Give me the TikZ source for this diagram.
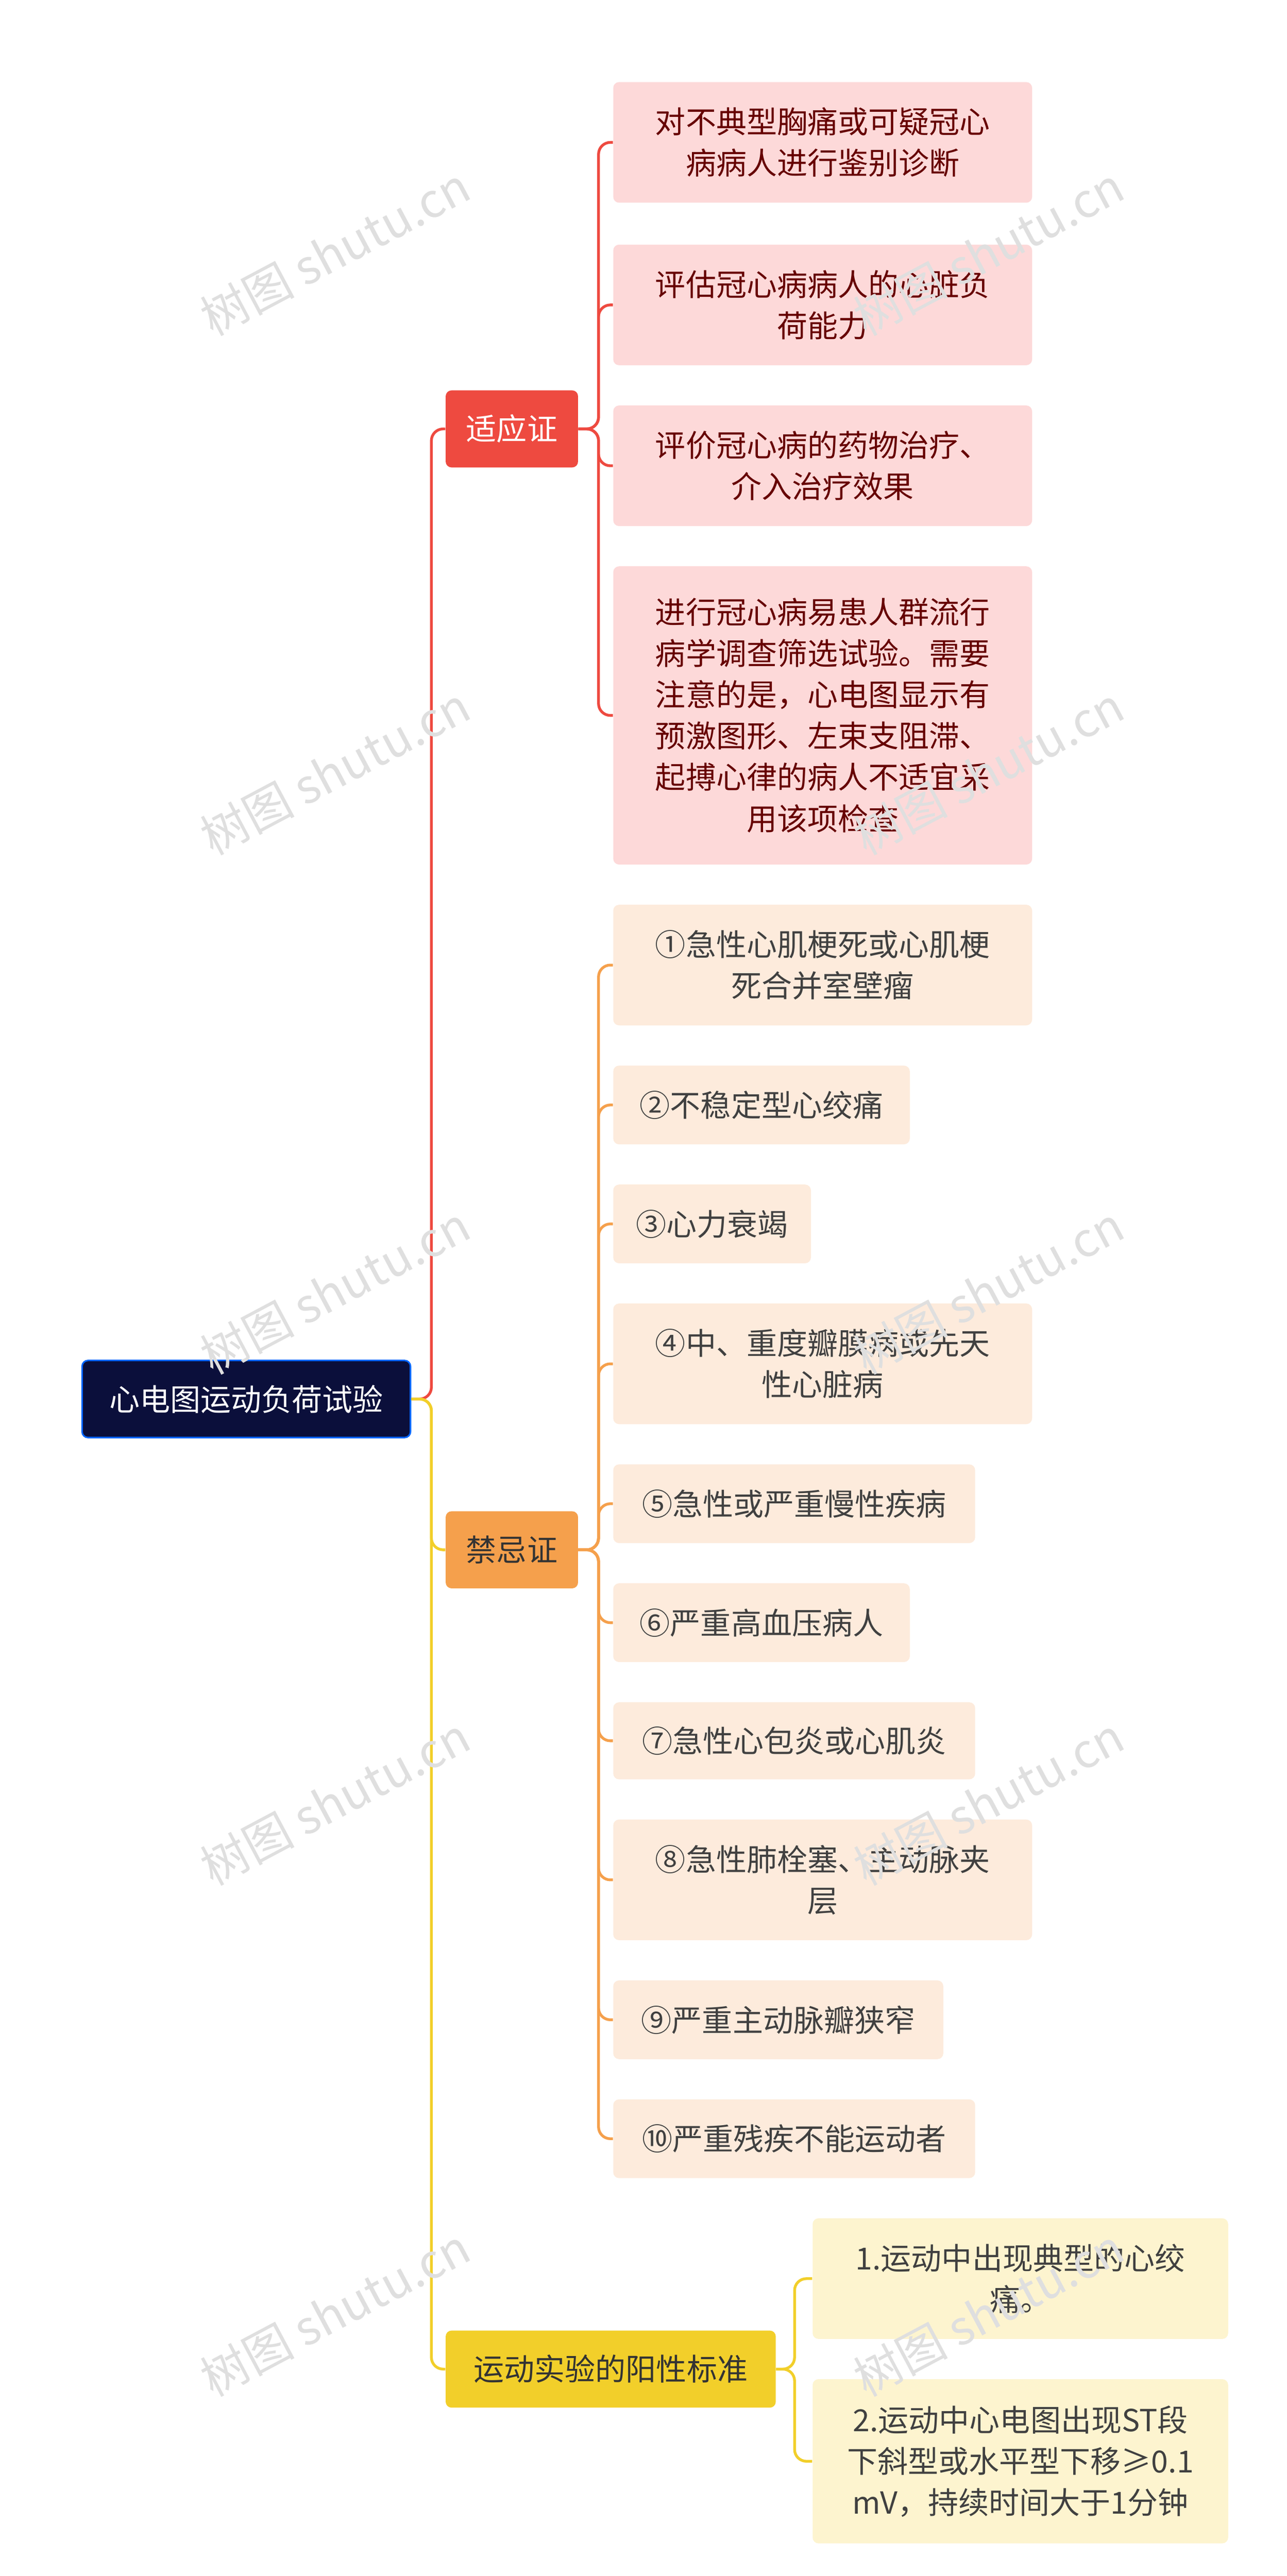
\documentclass[tikz,border=0pt]{standalone}
\usepackage{fontspec}
\setmainfont{Noto Sans CJK SC}
\usetikzlibrary{calc}
\definecolor{navy}{HTML}{0B0F3B}
\definecolor{rd}{HTML}{EE4A40}
\definecolor{org}{HTML}{F5A04C}
\definecolor{yl}{HTML}{F2CF2A}
\definecolor{pk}{HTML}{FDD9D9}
\definecolor{pc}{HTML}{FDEBDC}
\definecolor{ly}{HTML}{FDF4CF}
\tikzset{
  base/.style={rounded corners=3pt, inner sep=0pt, align=center, font=\fontsize{15.5pt}{21pt}\selectfont},
  rootbox/.style={base, fill=navy, draw=blue!60!cyan, line width=0.8pt, text=white},
  b1box/.style={base, fill=rd, text=white},
  b2box/.style={base, fill=org, text=black!80},
  b3box/.style={base, fill=yl, text=black!80},
  pkbox/.style={base, fill=pk, text=red!40!black},
  pcbox/.style={base, fill=pc, text=black!75},
  lybox/.style={base, fill=ly, text=black!75},
  conn/.style={line width=1.4pt, rounded corners=6pt},
  wm/.style={text=gray!25, rotate=28, font=\fontsize{24pt}{24pt}\selectfont}
}
\newcommand\bx[7]{\node[#6, minimum width={(#4-#2)*0.03cm}, minimum height={(#5-#3)*0.03cm}] (#1) at ({(#2+#4)/2},{(#3+#5)/2}) {#7};}
\begin{document}
\begin{tikzpicture}[x=0.03cm,y=-0.03cm]
\useasboundingbox[fill=white] (0,0) rectangle (768,1537.5);
\bx{root}{49}{812}{245}{858}{rootbox}{心电图运动负荷试验}
\bx{b1}{266}{233}{345}{279}{b1box}{适应证}
\bx{b2}{266}{902}{345}{948}{b2box}{禁忌证}
\bx{b3}{266}{1391}{463}{1437}{b3box}{运动实验的阳性标准}
\bx{a1}{366}{49}{616}{121}{pkbox}{对不典型胸痛或可疑冠心\\病病人进行鉴别诊断}
\bx{a2}{366}{146}{616}{218}{pkbox}{评估冠心病病人的心脏负\\荷能力}
\bx{a3}{366}{242}{616}{314}{pkbox}{评价冠心病的药物治疗、\\介入治疗效果}
\bx{a4}{366}{338}{616}{516}{pkbox}{进行冠心病易患人群流行\\病学调查筛选试验。需要\\注意的是，心电图显示有\\预激图形、左束支阻滞、\\起搏心律的病人不适宜采\\用该项检查}
\bx{c1}{366}{540}{616}{612}{pcbox}{①急性心肌梗死或心肌梗\\死合并室壁瘤}
\bx{c2}{366}{636}{543}{683}{pcbox}{②不稳定型心绞痛}
\bx{c3}{366}{707}{484}{754}{pcbox}{③心力衰竭}
\bx{c4}{366}{778}{616}{850}{pcbox}{④中、重度瓣膜病或先天\\性心脏病}
\bx{c5}{366}{874}{582}{921}{pcbox}{⑤急性或严重慢性疾病}
\bx{c6}{366}{945}{543}{992}{pcbox}{⑥严重高血压病人}
\bx{c7}{366}{1016}{582}{1062}{pcbox}{⑦急性心包炎或心肌炎}
\bx{c8}{366}{1086}{616}{1158}{pcbox}{⑧急性肺栓塞、主动脉夹\\层}
\bx{c9}{366}{1182}{563}{1229}{pcbox}{⑨严重主动脉瓣狭窄}
\bx{c10}{366}{1253}{582}{1300}{pcbox}{⑩严重残疾不能运动者}
\bx{d1}{485}{1324}{733}{1396}{lybox}{1.运动中出现典型的心绞\\痛。}
\bx{d2}{485}{1420}{733}{1518}{lybox}{2.运动中心电图出现ST段\\下斜型或水平型下移≥0.1\\mV，持续时间大于1分钟}
\draw[conn, rd] (root.east) -- ++(12,0) |- (b1.west);
\draw[conn, yl] (root.east) -- ++(12,0) |- (b3.west);
\draw[conn, yl] (root.east) -- ++(12,0) |- (b2.west);
\foreach \n in {a1,a2,a3,a4} \draw[conn, rd] (b1.east) -- ++(12,0) |- (\n.west);
\foreach \n in {c1,c2,c3,c4,c5,c6,c7,c8,c9,c10} \draw[conn, org] (b2.east) -- ++(12,0) |- (\n.west);
\foreach \n in {d1,d2} \draw[conn, yl] (b3.east) -- ++(11,0) |- (\n.west);
\foreach \y in {150,460,770,1075,1380} {
  \node[wm] at (200,\y) {树图 shutu.cn};
  \node[wm] at (590,\y) {树图 shutu.cn};
}
\end{tikzpicture}
\end{document}
